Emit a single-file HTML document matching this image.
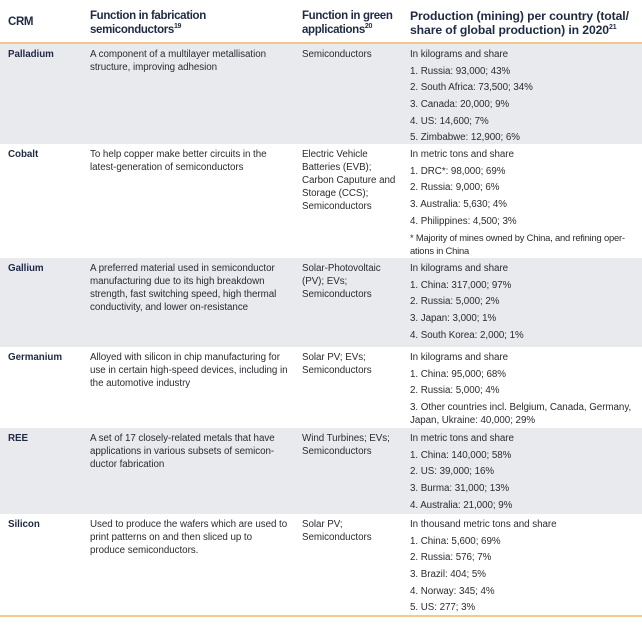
<!DOCTYPE html>
<html><head><meta charset="utf-8"><style>
body{margin:0;width:642px;height:628px;background:#fff;font-family:"Liberation Sans",sans-serif;color:#2b2b33;overflow:hidden;position:relative}
.hdr{position:absolute;left:0;top:0;width:642px;height:42px;border-bottom:2px solid #f2c98a}
.h{position:absolute;font-weight:bold;font-size:11.5px;line-height:13.5px;color:#1e2a46;letter-spacing:-0.35px}
.h sup{font-size:7px;line-height:0}
.row{position:absolute;left:0;width:642px}
.g{background:#e9eaee}
.c{position:absolute;top:4px;font-size:9.8px;line-height:13px;letter-spacing:-0.05px}
.c1{left:8px;font-weight:bold;color:#1e2a46}
.c2{left:90px;width:204px}
.c3{left:302px;width:100px}
.c4{left:410px;width:232px;white-space:nowrap}
.c4 div{margin-bottom:3.7px}
.bot{position:absolute;left:0;top:615px;width:642px;height:2px;background:#f2c98a}
</style></head><body>
<div class="hdr">
<div class="h" style="left:8px;top:16px">CRM</div>
<div class="h" style="left:90px;top:10px">Function in fabrication<br>semiconductors<sup>19</sup></div>
<div class="h" style="left:302px;top:10px">Function in green<br>applications<sup>20</sup></div>
<div class="h" style="left:410px;top:10px;font-size:12.2px;letter-spacing:-0.1px">Production (mining) per country (total/<br>share of global production) in 2020<sup>21</sup></div>
</div>

<div class="row g" style="top:44px;height:100px">
<div class="c c1">Palladium</div>
<div class="c c2">A component of a multilayer metallisation<br>structure, improving adhesion</div>
<div class="c c3">Semiconductors</div>
<div class="c c4"><div>In kilograms and share</div><div>1. Russia: 93,000; 43%</div><div>2. South Africa: 73,500; 34%</div><div>3. Canada: 20,000; 9%</div><div>4. US: 14,600; 7%</div><div>5. Zimbabwe: 12,900; 6%</div></div>
</div>

<div class="row" style="top:144px;height:114px">
<div class="c c1">Cobalt</div>
<div class="c c2">To help copper make better circuits in the<br>latest-generation of semiconductors</div>
<div class="c c3">Electric Vehicle Batteries (EVB); Carbon Caputure and Storage (CCS); Semiconductors</div>
<div class="c c4"><div>In metric tons and share</div><div>1. DRC*: 98,000; 69%</div><div>2. Russia: 9,000; 6%</div><div>3. Australia: 5,630; 4%</div><div>4. Philippines: 4,500; 3%</div><div style="font-size:9.4px;letter-spacing:-0.2px">* Majority of mines owned by China, and refining oper-<br>ations in China</div></div>
</div>

<div class="row g" style="top:258px;height:89px">
<div class="c c1">Gallium</div>
<div class="c c2">A preferred material used in semiconductor<br>manufacturing due to its high breakdown<br>strength, fast switching speed, high thermal<br>conductivity, and lower on-resistance</div>
<div class="c c3">Solar-Photovoltaic<br>(PV); EVs;<br>Semiconductors</div>
<div class="c c4"><div>In kilograms and share</div><div>1. China: 317,000; 97%</div><div>2. Russia: 5,000; 2%</div><div>3. Japan: 3,000; 1%</div><div>4. South Korea: 2,000; 1%</div></div>
</div>

<div class="row" style="top:347px;height:81px">
<div class="c c1">Germanium</div>
<div class="c c2">Alloyed with silicon in chip manufacturing for<br>use in certain high-speed devices, including in<br>the automotive industry</div>
<div class="c c3">Solar PV; EVs;<br>Semiconductors</div>
<div class="c c4"><div>In kilograms and share</div><div>1. China: 95,000; 68%</div><div>2. Russia: 5,000; 4%</div><div>3. Other countries incl. Belgium, Canada, Germany,<br>Japan, Ukraine: 40,000; 29%</div></div>
</div>

<div class="row g" style="top:428px;height:86px">
<div class="c c1">REE</div>
<div class="c c2">A set of 17 closely-related metals that have<br>applications in various subsets of semicon-<br>ductor fabrication</div>
<div class="c c3">Wind Turbines; EVs;<br>Semiconductors</div>
<div class="c c4"><div>In metric tons and share</div><div>1. China: 140,000; 58%</div><div>2. US: 39,000; 16%</div><div>3. Burma: 31,000; 13%</div><div>4. Australia: 21,000; 9%</div></div>
</div>

<div class="row" style="top:514px;height:101px">
<div class="c c1">Silicon</div>
<div class="c c2">Used to produce the wafers which are used to<br>print patterns on and then sliced up to<br>produce semiconductors.</div>
<div class="c c3">Solar PV;<br>Semiconductors</div>
<div class="c c4"><div>In thousand metric tons and share</div><div>1. China: 5,600; 69%</div><div>2. Russia: 576; 7%</div><div>3. Brazil: 404; 5%</div><div>4. Norway: 345; 4%</div><div>5. US: 277; 3%</div></div>
</div>
<div class="bot"></div>
</body></html>
